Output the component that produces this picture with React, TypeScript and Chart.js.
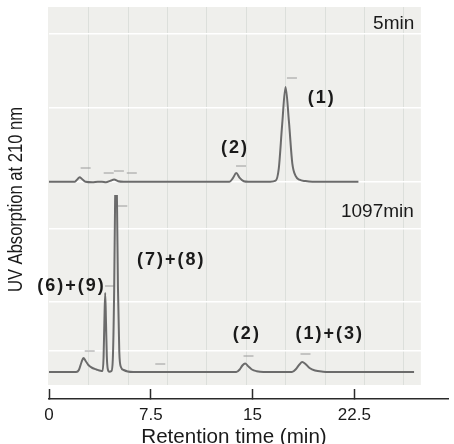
import React, { useEffect, useRef } from 'react';
import { Chart, registerables } from 'chart.js';

Chart.register(...registerables);

// ---- data (retention time in min, absorbance in arbitrary units above baseline) ----
const xTicks = [0, 7.5, 15, 22.5];

const topTimes = [0, 1.9, 2.1, 2.25, 2.45, 2.7, 3.2, 3.6, 3.9, 4.2, 4.5, 4.8, 5.1, 5.5, 6.0, 8.0, 13.3, 13.55, 13.8, 14.05, 14.35, 14.7, 16.3, 16.7, 16.93, 17.18, 17.43, 17.68, 17.93, 18.18, 18.45, 18.9, 19.4, 22.8];
const topValues = [0, 0, 2.5, 4.5, 2.5, 0, -0.5, 0, 0, -0.5, 0.8, 2.2, 0.5, 0, 0, 0, 0, 3.5, 8.7, 3.8, 0.5, 0, 0, 1, 13, 57, 94.7, 60, 18, 5.5, 2, 0.6, 0, 0];

const bottomTimes = [0, 2.0, 2.2, 2.4, 2.54, 2.7, 2.9, 3.2, 3.5, 3.8, 3.95, 4.02, 4.08, 4.14, 4.2, 4.26, 4.33, 4.45, 4.6, 4.7, 4.8, 4.87, 4.94, 5.01, 5.08, 5.18, 5.3, 5.5, 5.8, 6.2, 13.8, 14.05, 14.25, 14.45, 14.7, 14.95, 15.3, 15.8, 17.9, 18.2, 18.45, 18.66, 18.9, 19.2, 19.6, 20.2, 20.6, 26.9];
const bottomValues = [0, 0, 2, 10, 14, 11, 7, 4, 2.5, 1.2, 1, 14, 50, 79, 50, 16, 3, 0.3, 1, 12, 80, 170, 215, 170, 85, 20, 5, 2, 0.5, 0, 0, 2.5, 6.5, 8.5, 5.5, 2.5, 0.8, 0, 0, 3, 7.5, 10, 8, 4, 1.5, 0.3, 0, 0];

const topMarkTimes = [2.7, 4.4, 5.15, 6.1, 14.15, 17.9];
const topMarkValues = [13.7, 8.7, 10.7, 8.7, 15.7, 103.7];
const bottomMarkTimes = [3.0, 4.5, 5.4, 8.2, 14.7, 18.9];
const bottomMarkValues = [21, 86, 166, 8, 16, 18];

const peakLabels = ['(1)', '(2)', '(6)+(9)', '(7)+(8)', '(2)', '(1)+(3)'];
const peakLabelTimes = [20.1, 13.7, 1.65, 9.0, 14.58, 20.68];
const peakLabelValues = [83.7, 33.7, 86, 112, 38, 38];
const peakLabelPanels = ['y1', 'y1', 'y2', 'y2', 'y2', 'y2'];

const panelTitles = ['5min', '1097min'];
const panelTitleTimes = [25.4, 24.2];
const panelTitleValues = [158, 160];
const panelTitleAxes = ['y1', 'y2'];

const scanGridTimes = [2.9, 5.8, 8.7, 11.6, 14.5, 17.4, 20.3, 23.2, 26.1];
const topGridValues = [0, 74, 148];
const bottomGridValues = [21, 70, 143];

const yTitle = 'UV Absorption at 210 nm';
const xTitle = 'Retention time (min)';

const FONT = "'Liberation Sans', Arial, sans-serif";

const scanPlugin = {
  id: 'scan',
  beforeDraw(chart: any) {
    const { ctx, scales } = chart;
    const x = scales.x, y1 = scales.y1, y2 = scales.y2;
    const left = x.getPixelForValue(-0.07);
    const right = x.getPixelForValue(27.4);
    ctx.save();
    ctx.fillStyle = '#efefec';
    ctx.fillRect(left, y1.top, right - left, y2.bottom - y1.top);
    ctx.strokeStyle = '#dcdfdb';
    ctx.lineWidth = 1;
    scanGridTimes.forEach((t) => {
      const px = Math.round(x.getPixelForValue(t)) + 0.5;
      ctx.beginPath();
      ctx.moveTo(px, y1.top);
      ctx.lineTo(px, y2.bottom);
      ctx.stroke();
    });
    ctx.restore();
  },
  afterDatasetsDraw(chart: any) {
    const { ctx, scales } = chart;
    const x = scales.x;
    ctx.save();
    ctx.fillStyle = '#1a1a1a';
    ctx.textAlign = 'center';
    ctx.textBaseline = 'middle';
    ctx.font = `bold 18px ${FONT}`;
    (ctx as any).letterSpacing = '2px';
    peakLabels.forEach((lab, i) => {
      const px = x.getPixelForValue(peakLabelTimes[i]);
      const py = scales[peakLabelPanels[i]].getPixelForValue(peakLabelValues[i]);
      ctx.fillText(lab, px, py);
    });
    (ctx as any).letterSpacing = '0px';
    ctx.font = `19px ${FONT}`;
    panelTitles.forEach((lab, i) => {
      const px = x.getPixelForValue(panelTitleTimes[i]);
      const py = scales[panelTitleAxes[i]].getPixelForValue(panelTitleValues[i]);
      ctx.fillText(lab, px, py);
    });
    // x-axis title
    ctx.font = `20.6px ${FONT}`;
    ctx.fillText(xTitle, 234, 437);
    // rotated, condensed y title
    ctx.translate(22, 199.5);
    ctx.rotate(-Math.PI / 2);
    ctx.textBaseline = 'alphabetic';
    ctx.font = `20px ${FONT}`;
    const w = ctx.measureText(yTitle).width;
    ctx.scale(185 / w, 1);
    ctx.fillText(yTitle, 0, 0);
    ctx.restore();
  },
};

function App() {
  const ref = useRef<HTMLCanvasElement | null>(null);
  useEffect(() => {
    if (!ref.current) return;
    const line = (times: number[], values: number[], axis: string) => ({
      type: 'line' as const,
      data: times.map((t, i) => ({ x: t, y: values[i] })),
      yAxisID: axis,
      borderColor: '#6b6b6b',
      borderWidth: 2,
      pointRadius: 0,
      cubicInterpolationMode: 'monotone' as const,
      fill: false,
    });
    const marks = (times: number[], values: number[], axis: string) => ({
      type: 'scatter' as const,
      data: times.map((t, i) => ({ x: t, y: values[i] })),
      yAxisID: axis,
      showLine: false,
      pointStyle: 'line',
      pointRadius: 5,
      borderColor: '#9a9a9a',
      backgroundColor: '#9a9a9a',
      borderWidth: 1,
    });
    const panelAxis = (min: number, max: number, weight: number, grid: number[]) => ({
      type: 'linear',
      position: 'right',
      stack: 'panels',
      stackWeight: weight,
      min,
      max,
      afterBuildTicks: (a: any) => {
        a.ticks = grid.map((value) => ({ value }));
      },
      ticks: { display: false },
      grid: { color: '#ffffff', lineWidth: 1.5, drawTicks: false },
      border: { display: false },
    });
    const chart = new Chart(ref.current, {
      type: 'line',
      data: {
        datasets: [
          line(topTimes, topValues, 'y1'),
          line(bottomTimes, bottomValues, 'y2'),
          marks(topMarkTimes, topMarkValues, 'y1'),
          marks(bottomMarkTimes, bottomMarkValues, 'y2'),
        ] as any,
      },
      options: {
        responsive: false,
        animation: false,
        layout: { padding: { left: 49, right: 0, top: 7, bottom: 0 } },
        plugins: { legend: { display: false }, tooltip: { enabled: false } },
        scales: {
          x: {
            type: 'linear',
            min: 0,
            max: 29.4,
            afterBuildTicks: (a: any) => {
              a.ticks = xTicks.map((value) => ({ value }));
            },
            afterFit: (a: any) => {
              a.height = 45;
            },
            ticks: {
              font: { family: FONT, size: 17 },
              color: '#1a1a1a',
              padding: 16,
              maxRotation: 0,
              autoSkip: false,
              callback: (v: any) => String(v),
            },
            grid: { drawOnChartArea: false, drawTicks: true, tickLength: -10, tickColor: '#2a2a2a', tickWidth: 1.5 },
            border: { display: true, color: '#2a2a2a', width: 1.5 },
            title: { display: false },
          },
          y1: panelAxis(-13.3, 174.7, 188, topGridValues),
          y2: panelAxis(-13, 177, 190, bottomGridValues),
          y3: { type: 'linear', position: 'right', stack: 'panels', stackWeight: 14, min: 0, max: 1, display: false },
        } as any,
      },
      plugins: [scanPlugin],
    });
    return () => chart.destroy();
  }, []);
  return (
    <div style={{ position: 'absolute', left: 0, top: 0, width: 454, height: 444 }}>
      <canvas ref={ref} width={454} height={444} />
    </div>
  );
}

export default App;
